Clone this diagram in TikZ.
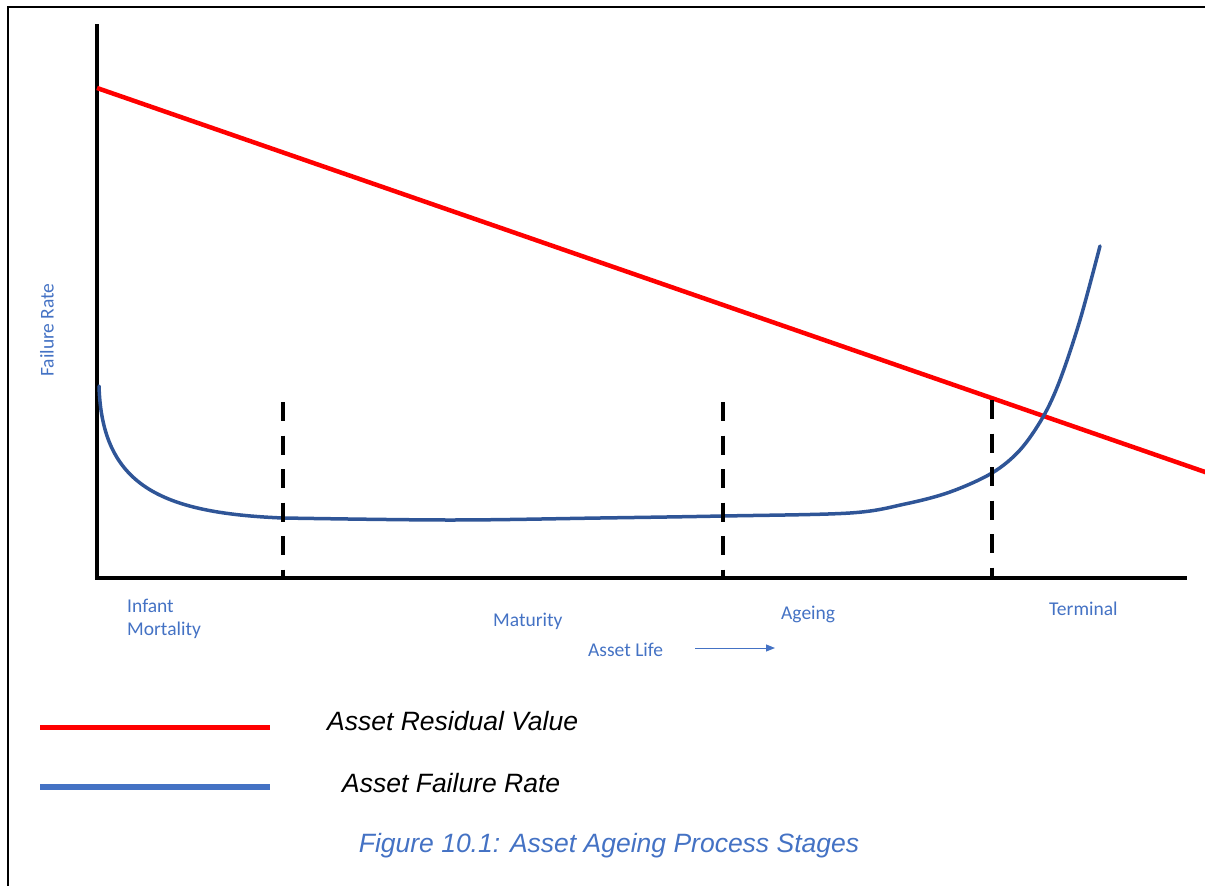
\documentclass[tikz,border=0pt]{standalone}
\usepackage{fontspec}
\usepackage{tikz}
\usetikzlibrary{arrows.meta}
\newfontfamily\calibrifont{Carlito}
\newfontfamily\arialfont{Liberation Sans}
\definecolor{label-blue}{HTML}{4472C4}
\definecolor{curve-blue}{HTML}{2F5597}
\tikzset{
    frame-line/.style = {draw=black, line width=2.5pt},
    axis-line/.style = {draw=black, line width=4.5pt},
    stage-line/.style = {draw=black, line width=4pt, dash pattern=on 19pt off 14.5pt},
    value-line/.style = {draw=red, line width=4.5pt},
    failure-line/.style = {draw=curve-blue, line width=3.5pt, line cap=round, line join=round},
    stage-label/.style = {text=label-blue, font=\calibrifont\fontsize{19.5}{22.5}\selectfont, inner sep=0pt, align=left},
    legend-text/.style = {text=black, font=\arialfont\itshape\fontsize{26.5}{30}\selectfont, inner sep=0pt},
}

\begin{document}
\begin{tikzpicture}[x=1pt, y=-1pt]
\useasboundingbox (0,0) rectangle (1205,886);
\draw[frame-line] (8,890) -- (8,7) -- (1210,7);

\coordinate (origin) at (97,578);
\coordinate (y-top) at (97,24);
\coordinate (x-end) at (1187,578);
\draw[axis-line] (y-top) -- (origin) -- (x-end);

\draw[value-line] (97,88) -- (1210,473.7);

\draw[failure-line] (99,386) .. controls (102,485) and (160,513) .. (283,518)
    -- plot[smooth, tension=0.55] coordinates {
    (283,518) (450,520) (600,518) (723,516) (850,513) (905,504)
    (950,492) (992,473) (1020,450) (1043,417) (1060,380) (1080,320) (1100,246)};

\foreach \sx/\sy in {283/402, 723/402, 992/400}
    \draw[stage-line] (\sx,\sy) -- (\sx,578);

\node[stage-label, rotate=90] (failure-rate) at (47,330) {Failure Rate};
\node[stage-label, anchor=base west] (infant) at (127,635) {Infant\\Mortality};
\node[stage-label, anchor=base west] (maturity) at (493,626.5) {Maturity};
\node[stage-label, anchor=base west] (ageing) at (781,619) {Ageing};
\node[stage-label, anchor=base west] (terminal) at (1049,615) {Terminal};
\node[stage-label, anchor=base west] (asset-life) at (588,656) {Asset Life};
\coordinate (life-start) at (695,648);
\coordinate (life-end) at (775,648);
\draw[draw=label-blue, line width=1pt, -{Triangle[length=9pt, width=7pt]}] (life-start) -- (life-end);

\draw[value-line, line width=5pt] (40,727) -- (270,727);
\draw[draw=label-blue, line width=6pt] (40,787) -- (270,787);
\node[legend-text, anchor=base west] (residual) at (327,730) {Asset Residual Value};
\node[legend-text, anchor=base west] (failure) at (342,792) {Asset Failure Rate};

\node[legend-text, text=label-blue, anchor=base] (caption) at (609,852) {Figure 10.1: Asset Ageing Process Stages};
\end{tikzpicture}
\end{document}
